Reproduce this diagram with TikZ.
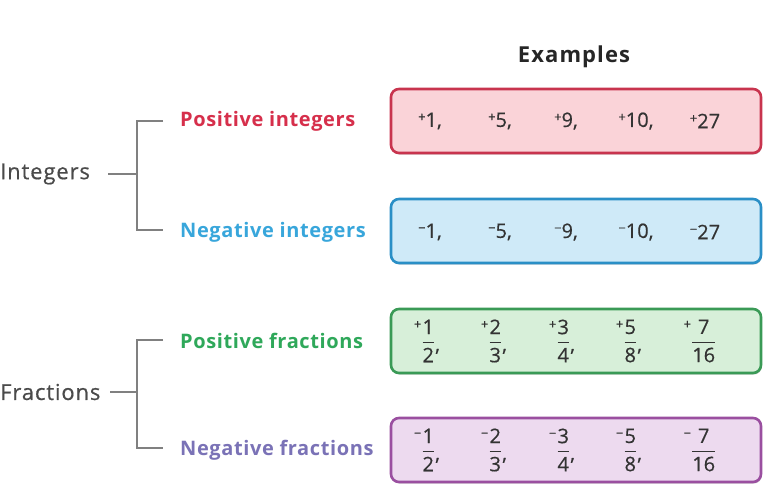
\documentclass[tikz,border=0pt]{standalone}
\usepackage{fontspec}
\usepackage{amsmath}
\setmainfont{Open Sans}
\usetikzlibrary{shadows}
\definecolor{redfill}{HTML}{FAD3D8}
\definecolor{redline}{HTML}{C8344E}
\definecolor{redtext}{HTML}{D62F4B}
\definecolor{bluefill}{HTML}{CFEAF8}
\definecolor{blueline}{HTML}{2A8FC6}
\definecolor{bluetext}{HTML}{38A6DB}
\definecolor{greenfill}{HTML}{D7EFD9}
\definecolor{greenline}{HTML}{3A9A56}
\definecolor{greentext}{HTML}{2FA85A}
\definecolor{purplefill}{HTML}{EDDAEF}
\definecolor{purpleline}{HTML}{9A4FA0}
\definecolor{purpletext}{HTML}{7A72B6}
\definecolor{graytext}{HTML}{4A4A4A}
\definecolor{bracket}{HTML}{808080}
\newcommand\sgn[1]{\raisebox{.5ex}{\fontsize{13}{13}\selectfont #1}}
\newcommand\frc[3]{\raisebox{1.3ex}{\sgn{#1}}$\genfrac{}{}{1pt}{0}{\mbox{#2}}{\mbox{#3}}$}
\newcommand\cm{\raisebox{-0.3ex}{,}}
\tikzset{
  exbox/.style={rounded corners=8pt, line width=2.6pt, minimum width=370pt, minimum height=64pt,
    drop shadow={shadow xshift=0.8pt, shadow yshift=-1.6pt, opacity=0.35}},
  cat/.style={font=\fontsize{22}{22}\selectfont\addfontfeatures{LetterSpace=4,FakeBold=0.6}, text=graytext, inner sep=0pt, anchor=west},
  sub/.style={font=\fontsize{20}{20}\selectfont\bfseries\addfontfeatures{LetterSpace=3}, anchor=west, inner sep=0pt},
  num/.style={font=\fontsize{20}{20}\selectfont\addfontfeatures{FakeBold=0.4}, text=black!80, inner sep=0pt},
  brk/.style={draw=bracket, line width=1.1pt},
}
\begin{document}
\begin{tikzpicture}[x=1pt,y=-1pt]
\useasboundingbox (0,0) rectangle (765,484);
\node[font=\fontsize{22}{22}\selectfont\bfseries\addfontfeatures{LetterSpace=5}, text=black!85] (ex) at (574,57) {Examples};
% boxes
\node[exbox, draw=redline, fill=redfill] (b1) at (576,121) {};
\node[exbox, draw=blueline, fill=bluefill] (b2) at (576,231) {};
\node[exbox, draw=greenline, fill=greenfill] (b3) at (576,341) {};
\node[exbox, draw=purpleline, fill=purplefill] (b4) at (576,450) {};
% integers
\node[num] (p1) at (430,121) {\sgn{+}1,};
\node[num] (p2) at (500,121) {\sgn{+}5,};
\node[num] (p3) at (566,121) {\sgn{+}9,};
\node[num] (p4) at (636,121) {\sgn{+}10,};
\node[num] (p5) at (705,121) {\sgn{+}27};
\node[num] (n1) at (430,232) {\sgn{−}1,};
\node[num] (n2) at (500,232) {\sgn{−}5,};
\node[num] (n3) at (566,232) {\sgn{−}9,};
\node[num] (n4) at (636,232) {\sgn{−}10,};
\node[num] (n5) at (705,232) {\sgn{−}27};
% fractions
\node[num] (pf1) at (427,341) {\frc{+}{1}{2}\cm};
\node[num] (pf2) at (494,341) {\frc{+}{2}{3}\cm};
\node[num] (pf3) at (562,341) {\frc{+}{3}{4}\cm};
\node[num] (pf4) at (629,341) {\frc{+}{5}{8}\cm};
\node[num] (pf5) at (700,341) {\frc{+}{7}{16}};
\node[num] (nf1) at (427,450) {\frc{−}{1}{2}\cm};
\node[num] (nf2) at (494,450) {\frc{−}{2}{3}\cm};
\node[num] (nf3) at (562,450) {\frc{−}{3}{4}\cm};
\node[num] (nf4) at (629,450) {\frc{−}{5}{8}\cm};
\node[num] (nf5) at (700,450) {\frc{−}{7}{16}};
% labels
\node[cat] (int) at (0,174) {Integers};
\node[cat] (frac) at (0,392) {Fractions};
\node[sub, text=redtext] (pi) at (180,121) {Positive integers};
\node[sub, text=bluetext] (ni) at (180,232) {Negative integers};
\node[sub, text=greentext] (pfr) at (180,341) {Positive fractions};
\node[sub, text=purpletext] (nfr) at (180,450) {Negative fractions};
% brackets
\coordinate (i0) at (137,174);
\coordinate (i1) at (137,121);
\coordinate (i2) at (137,230);
\coordinate (i1e) at (163,121);
\coordinate (i2e) at (163,230);
\coordinate (f0) at (137,392);
\coordinate (f1) at (137,340);
\coordinate (f2) at (137,448);
\coordinate (f1e) at (163,340);
\coordinate (f2e) at (163,448);
\coordinate (is) at (108,174);
\coordinate (fs) at (110,392);
\draw[brk] (is) -- (i0);
\draw[brk] (i1e) -- (i1) -- (i2) -- (i2e);
\draw[brk] (fs) -- (f0);
\draw[brk] (f1e) -- (f1) -- (f2) -- (f2e);
\end{tikzpicture}
\end{document}
